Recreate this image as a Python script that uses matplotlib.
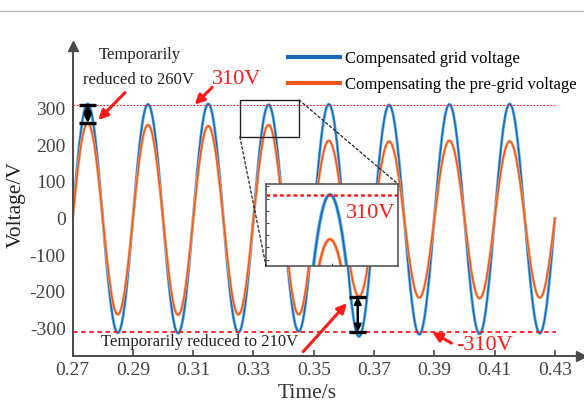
import matplotlib
matplotlib.use("Agg")
import matplotlib.pyplot as plt
import numpy as np
from matplotlib.lines import Line2D
from matplotlib.patches import Rectangle, ConnectionPatch

plt.rcParams["font.family"] = ["Liberation Serif", "DejaVu Serif"]
plt.rcParams["axes.unicode_minus"] = False

# 50 Hz waveforms: peak value of every positive / negative half cycle
freq = 50.0
t_start, t_end = 0.27, 0.43
blue_peaks = [312, 311, 312, 310, 311, 309, 311, 312]
blue_troughs = [-312, -313, -311, -308, -322, -316, -315, -313]
orange_peaks = [260, 255, 252, 255, 212, 210, 212, 210]
orange_troughs = [-262, -263, -262, -262, -213, -216, -218, -216]

x_ticks = [0.27, 0.29, 0.31, 0.33, 0.35, 0.37, 0.39, 0.41, 0.43]
y_ticks = [-300, -200, -100, 0, 100, 200, 300]
ref_level = 310

blue_dark, blue_light = "#1668b8", "#62aee6"
orange_dark, orange_light = "#f0561c", "#f7a070"
red = "#ff1a1a"
gray = "#4a4a4a"


def waveform(peaks, troughs, t):
    amps = np.array([a for pair in zip(peaks, troughs) for a in pair], dtype=float)
    k = np.clip(((t - t_start) * 2 * freq).astype(int), 0, len(amps) - 1)
    return np.abs(amps[k]) * np.sin(2 * np.pi * freq * (t - t_start))


t = np.linspace(t_start, t_end, 4000)
v_blue = waveform(blue_peaks, blue_troughs, t)
v_orange = waveform(orange_peaks, orange_troughs, t)


def draw_traces(ax, lw_scale=1.0):
    ax.plot(t, v_blue, color=blue_light, lw=2.1 * lw_scale)
    ax.plot(t, v_blue, color=blue_dark, lw=1.0 * lw_scale)
    ax.plot(t, v_orange, color=orange_light, lw=2.0 * lw_scale)
    ax.plot(t, v_orange, color=orange_dark, lw=1.0 * lw_scale)


fig = plt.figure(figsize=(5.84, 4.03), dpi=100)
fig.add_artist(Line2D([0, 1], [0.972, 0.972], color="#b8b8b8", lw=1.0))

ax = fig.add_axes([0.1243, 0.1166, 0.862, 0.7694])
draw_traces(ax)
ax.set_xlim(0.27, 0.437)
ax.set_ylim(-375, 470)

for s in ("top", "right"):
    ax.spines[s].set_visible(False)
for s in ("left", "bottom"):
    ax.spines[s].set_color(gray)
    ax.spines[s].set_linewidth(1.4)
ax.plot(1.01, 0, ">", transform=ax.transAxes, color=gray, ms=7, clip_on=False)
ax.plot(0, 1, "^", transform=ax.transAxes, color=gray, ms=7, clip_on=False)

ax.set_xticks(x_ticks)
ax.set_xticklabels([f"{v:.2f}" for v in x_ticks])
ax.set_yticks(y_ticks)
ax.tick_params(axis="x", direction="in", length=4, width=1.2, color=gray,
               labelsize=14, labelcolor="#444444", pad=4)
ax.tick_params(axis="y", length=0, labelsize=14, labelcolor="#444444", pad=5)

fig.text(307 / 584, 1 - 394 / 403, "Time/s", ha="center", va="center",
         fontsize=15.5, color="#333333")
fig.text(16 / 584, 1 - 205 / 403, "Voltage/V", ha="center", va="center",
         rotation=90, fontsize=15.5, color="#222222")

# +/-310 V reference lines
ax.plot([t_start, 0.4305], [ref_level] * 2, color=red, lw=0.8, ls=(0, (1.5, 1.5)))
ax.plot([t_start, 0.4305], [-ref_level] * 2, color=red, lw=1.3, ls=(0, (2.5, 2)))

# legend
handles = [Line2D([], [], color=blue_dark, lw=3), Line2D([], [], color=orange_dark, lw=3)]
fig.legend(handles, ["Compensated grid voltage", "Compensating the pre-grid voltage"],
           loc="upper left", bbox_to_anchor=(288 / 584, 1 - 51 / 403), frameon=False,
           fontsize=12, handlelength=3.1, handletextpad=0.3, labelspacing=0.62,
           borderpad=0, borderaxespad=0)

# first half cycle: drop to 260 V
arrow_red = dict(arrowstyle="-|>", color=red, lw=2.2, mutation_scale=14, shrinkA=0, shrinkB=0)
ax.text(0.2924, 446, "Temporarily", ha="center", va="center", fontsize=12, color="#222222")
ax.text(0.2917, 378, "reduced to 260V", ha="center", va="center", fontsize=12, color="#222222")
ax.annotate("", xy=(0.2785, 268), xytext=(0.2874, 343), arrowprops=arrow_red)
ax.text(0.3245, 378, "310V", ha="center", va="center", fontsize=16, color=red)
ax.annotate("", xy=(0.3105, ref_level), xytext=(0.3163, 357), arrowprops=arrow_red)


def level_marker(x, top, bottom):
    half = 0.0028
    for y in (top, bottom):
        ax.plot([x - half, x + half], [y, y], color="black", lw=2.4, solid_capstyle="butt")
    ax.annotate("", xy=(x, top), xytext=(x, bottom),
                arrowprops=dict(arrowstyle="<|-|>", color="black", lw=1.8,
                                mutation_scale=10, shrinkA=0, shrinkB=0))


level_marker(0.275, ref_level, orange_peaks[0])
level_marker(0.3646, orange_troughs[4], -ref_level)

ax.text(0.312, -337, "Temporarily reduced to 210V", ha="center", va="center",
        fontsize=12, color="#222222")
ax.annotate("", xy=(0.361, -231), xytext=(0.3465, -363), arrowprops=arrow_red)
ax.text(0.3972, -347, "-310V", ha="left", va="center", fontsize=16, color=red)
ax.annotate("", xy=(0.3893, -ref_level), xytext=(0.3957, -340), arrowprops=arrow_red)

# zoomed view around the peak at 0.335 s
zx0, zx1, zy0, zy1 = 0.3255, 0.3451, 222, 323
ax.add_patch(Rectangle((zx0, zy0), zx1 - zx0, zy1 - zy0, fill=False,
                       edgecolor="#222222", lw=1.0, zorder=5))

axins = fig.add_axes([266 / 584, 1 - 266 / 403, 132 / 584, 82 / 403])
draw_traces(axins, lw_scale=1.2)
axins.plot([zx0, zx1], [ref_level] * 2, color=red, lw=1.8, ls=(0, (1.5, 1.2)))
axins.set_xlim(zx0, zx1)
axins.set_ylim(zy0, zy1)
axins.set_xticks([0.3353])
axins.set_yticks(np.arange(230, 321, 15))
axins.tick_params(direction="in", length=2, width=0.8, color=gray,
                  labelbottom=False, labelleft=False)
for s in axins.spines.values():
    s.set_color("#555555")
    s.set_linewidth(1.2)
axins.text(0.79, 0.646, "310V", transform=axins.transAxes, ha="center", va="center",
           fontsize=16, color=red)

for (xa, ya), (xb, yb) in [((zx0, zy0), (0, 0)), ((zx1, zy1), (1, 1))]:
    con = ConnectionPatch(xyA=(xa, ya), coordsA=ax.transData, xyB=(xb, yb),
                          coordsB=axins.transAxes, color="#222222", lw=0.9, ls=(0, (2, 2)))
    fig.add_artist(con)

fig.savefig("out.png", dpi=100)
